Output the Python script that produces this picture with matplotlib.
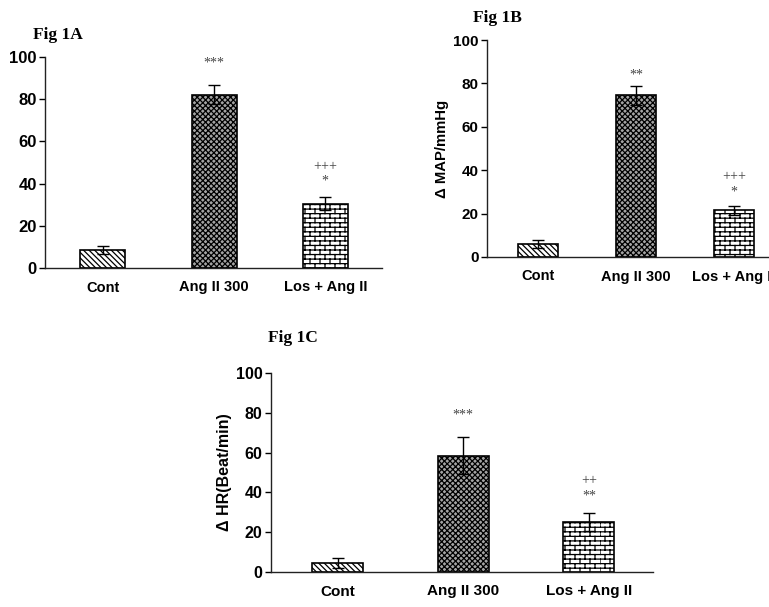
import warnings
import numpy as np
import matplotlib
matplotlib.use("Agg")
import matplotlib.pyplot as plt
from matplotlib.hatch import HatchPatternBase, _hatch_types
from matplotlib.path import Path

warnings.filterwarnings("ignore")

# data
groups = ["Cont", "Ang II 300", "Los + Ang II"]

map_a = [8.5, 82, 30.5]
err_a = [2, 4.5, 3]
map_b = [6, 74.5, 21.5]
err_b = [2, 4.5, 2]
hr_c = [4.5, 58.5, 25]
err_c = [2.5, 9.5, 4.5]

# significance marks: (bar index, y, text)
marks_a = [(1, 97, "***"), (2, 48, "+++"), (2, 41, "*")]
marks_b = [(1, 84, "**"), (2, 37, "+++"), (2, 30, "*")]
marks_c = [(1, 79, "***"), (2, 46, "++"), (2, 38, "**")]


# brick hatch for the losartan bars ('b')
class BrickHatch(HatchPatternBase):
    def __init__(self, hatch, density):
        n = hatch.count("b")
        self.rows = 22 * n
        self.cols = 10 * n
        self.num_vertices = (self.rows + self.rows * self.cols) * 2

    def set_vertices_and_codes(self, vertices, codes):
        k = 0
        h = 1.0 / self.rows
        w = 1.0 / self.cols
        for i in range(self.rows):
            y0 = i * h
            vertices[k] = (0, y0)
            vertices[k + 1] = (1, y0)
            k += 2
            off = 0.5 * w if i % 2 else 0.0
            for j in range(self.cols):
                x = j * w + off
                vertices[k] = (x, y0)
                vertices[k + 1] = (x, y0 + h)
                k += 2
        codes[0::2] = Path.MOVETO
        codes[1::2] = Path.LINETO


_hatch_types.append(BrickHatch)

plt.rcParams["font.family"] = "Liberation Sans"
plt.rcParams["hatch.linewidth"] = 0.9

faces = ["white", "#a4a4a4", "white"]
hatches = ["\\\\\\\\\\\\", "xxxxxx", "b"]

fig = plt.figure(figsize=(7.69, 6.07), dpi=100)


def panel(rect, xlim, vals, errs, marks, ylabel=None, fs=10, xfs=9.5, lfs=10.5):
    ax = fig.add_axes(rect)
    x = np.arange(len(groups))
    ax.bar(x, vals, width=0.405, color=faces, hatch=hatches,
           edgecolor="black", linewidth=1.2, zorder=2)
    ax.errorbar(x, vals, yerr=errs, fmt="none", ecolor="black",
                elinewidth=1, capsize=4, capthick=1, zorder=3)
    for i, y, t in marks:
        ax.text(i, y, t, ha="center", va="center", fontsize=10,
                color="#444444", family="Liberation Serif")
    ax.set_xlim(*xlim)
    ax.set_ylim(0, 100)
    ax.set_yticks(range(0, 101, 20))
    ax.set_xticks(x)
    ax.set_xticklabels(groups, fontsize=xfs, fontweight="bold")
    for lab in ax.get_yticklabels():
        lab.set_fontsize(fs)
        lab.set_fontweight("bold")
    ax.tick_params(axis="x", length=0, pad=9)
    ax.tick_params(axis="y", length=4, width=1, pad=2)
    for s in ["top", "right"]:
        ax.spines[s].set_visible(False)
    for s in ["left", "bottom"]:
        ax.spines[s].set_linewidth(1.0)
        ax.spines[s].set_color("#222222")
    if ylabel:
        ax.set_ylabel(ylabel, fontsize=lfs, fontweight="bold", labelpad=3)
    return ax


panel([45 / 769, 1 - 268 / 607, 337 / 769, 211 / 607], (-0.52, 2.51),
      map_a, err_a, marks_a, fs=12, xfs=10.5)
panel([487 / 769, 1 - 257 / 607, 297 / 769, 217 / 607], (-0.52, 2.51),
      map_b, err_b, marks_b, ylabel="Δ MAP/mmHg", fs=11, xfs=10.5, lfs=10.7)
panel([271 / 769, 1 - 572 / 607, 382 / 769, 199 / 607], (-0.53, 2.51),
      hr_c, err_c, marks_c, ylabel="Δ HR(Beat/min)", fs=11.5, xfs=11, lfs=11.5)

title_kw = dict(fontsize=12.5, fontweight="bold", family="Liberation Serif",
                va="center", ha="left")
fig.text(33 / 769, 1 - 35 / 607, "Fig 1A", **title_kw)
fig.text(473 / 769, 1 - 18 / 607, "Fig 1B", **title_kw)
fig.text(268 / 769, 1 - 338 / 607, "Fig 1C", **title_kw)

fig.savefig("out.png", dpi=100)
